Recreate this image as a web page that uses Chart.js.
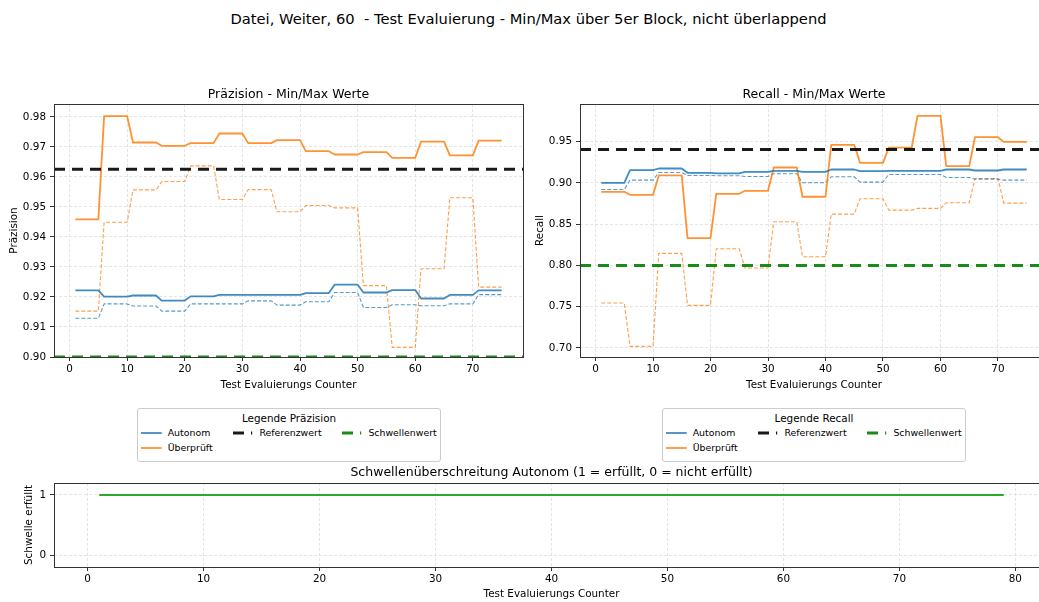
<!DOCTYPE html>
<html>
<head>
<meta charset="utf-8">
<title>Test Evaluierung - Min/Max über 5er Block</title>
<script src="https://cdn.jsdelivr.net/npm/chart.js@4.4.1/dist/chart.umd.min.js"></script>
<style>
  html, body { margin: 0; padding: 0; background: #fff; overflow: hidden; }
  body { position: relative; width: 1039px; height: 602px; font-family: "DejaVu Sans", sans-serif; color: #000; }
  canvas { position: absolute; display: block; }
  #suptitle { position: absolute; left: 0; width: 1057px; top: 9px; text-align: center; font-size: 14.7px; line-height: 20px; white-space: pre; }
  .legend { position: absolute; box-sizing: border-box; border: 1px solid #cccccc; border-radius: 3px; background: #fff; }
  .legend .lg-title { position: absolute; left: 0; right: 0; text-align: center; font-size: 10.4px; line-height: 14px; white-space: pre; }
  .legend .lg-text { position: absolute; font-size: 9.4px; line-height: 12px; white-space: pre; }
  .legend svg { position: absolute; }
</style>
</head>
<body>
<div id="suptitle">Datei, Weiter, 60  - Test Evaluierung - Min/Max über 5er Block, nicht überlappend</div>

<canvas id="praezision" width="528" height="317" style="left:0px;top:80px;width:528px;height:317px"></canvas>
<canvas id="recall" width="527" height="317" style="left:526px;top:80px;width:527px;height:317px"></canvas>
<canvas id="schwelle" width="1054" height="145" style="left:0px;top:462px;width:1054px;height:145px"></canvas>

<div class="legend" id="legendPraezision" style="left:137px;top:408px;width:304px;height:54px"></div>
<div class="legend" id="legendRecall" style="left:662px;top:408px;width:304px;height:54px"></div>

<script>
// ---- Evaluation counter (x values) ----
const counter = [
   1,  2,  3,  4,  5,  6,  7,  8,  9, 10, 11, 12, 13, 14, 15,
  16, 17, 18, 19, 20, 21, 22, 23, 24, 25, 26, 27, 28, 29, 30,
  31, 32, 33, 34, 35, 36, 37, 38, 39, 40, 41, 42, 43, 44, 45,
  46, 47, 48, 49, 50, 51, 52, 53, 54, 55, 56, 57, 58, 59, 60,
  61, 62, 63, 64, 65, 66, 67, 68, 69, 70, 71, 72, 73, 74, 75
];

// ---- Präzision: min/max per 5-run block ----
const praezAutonomMax = [
  0.9222, 0.9222, 0.9222, 0.9222, 0.9222,  0.9201, 0.9201, 0.9201, 0.9201, 0.9201,
  0.9205, 0.9205, 0.9205, 0.9205, 0.9205,  0.9188, 0.9188, 0.9188, 0.9188, 0.9188,
  0.9202, 0.9202, 0.9202, 0.9202, 0.9202,  0.9207, 0.9207, 0.9207, 0.9207, 0.9207,
  0.9207, 0.9207, 0.9207, 0.9207, 0.9207,  0.9207, 0.9207, 0.9207, 0.9207, 0.9207,
  0.9213, 0.9213, 0.9213, 0.9213, 0.9213,  0.9241, 0.9241, 0.9241, 0.9241, 0.9241,
  0.9215, 0.9215, 0.9215, 0.9215, 0.9215,  0.9223, 0.9223, 0.9223, 0.9223, 0.9223,
  0.9195, 0.9195, 0.9195, 0.9195, 0.9195,  0.9207, 0.9207, 0.9207, 0.9207, 0.9207,
  0.9222, 0.9222, 0.9222, 0.9222, 0.9222
];
const praezAutonomMin = [
  0.9129, 0.9129, 0.9129, 0.9129, 0.9129,  0.9177, 0.9177, 0.9177, 0.9177, 0.9177,
  0.9170, 0.9170, 0.9170, 0.9170, 0.9170,  0.9153, 0.9153, 0.9153, 0.9153, 0.9153,
  0.9177, 0.9177, 0.9177, 0.9177, 0.9177,  0.9177, 0.9177, 0.9177, 0.9177, 0.9177,
  0.9187, 0.9187, 0.9187, 0.9187, 0.9187,  0.9173, 0.9173, 0.9173, 0.9173, 0.9173,
  0.9184, 0.9184, 0.9184, 0.9184, 0.9184,  0.9215, 0.9215, 0.9215, 0.9215, 0.9215,
  0.9165, 0.9165, 0.9165, 0.9165, 0.9165,  0.9174, 0.9174, 0.9174, 0.9174, 0.9174,
  0.9171, 0.9171, 0.9171, 0.9171, 0.9171,  0.9177, 0.9177, 0.9177, 0.9177, 0.9177,
  0.9208, 0.9208, 0.9208, 0.9208, 0.9208
];
const praezGeprueftMax = [
  0.9459, 0.9459, 0.9459, 0.9459, 0.9459,  0.9803, 0.9803, 0.9803, 0.9803, 0.9803,
  0.9715, 0.9715, 0.9715, 0.9715, 0.9715,  0.9704, 0.9704, 0.9704, 0.9704, 0.9704,
  0.9713, 0.9713, 0.9713, 0.9713, 0.9713,  0.9745, 0.9745, 0.9745, 0.9745, 0.9745,
  0.9713, 0.9713, 0.9713, 0.9713, 0.9713,  0.9723, 0.9723, 0.9723, 0.9723, 0.9723,
  0.9686, 0.9686, 0.9686, 0.9686, 0.9686,  0.9675, 0.9675, 0.9675, 0.9675, 0.9675,
  0.9683, 0.9683, 0.9683, 0.9683, 0.9683,  0.9664, 0.9664, 0.9664, 0.9664, 0.9664,
  0.9718, 0.9718, 0.9718, 0.9718, 0.9718,  0.9672, 0.9672, 0.9672, 0.9672, 0.9672,
  0.9721, 0.9721, 0.9721, 0.9721, 0.9721
];
const praezGeprueftMin = [
  0.9153, 0.9153, 0.9153, 0.9153, 0.9153,  0.9449, 0.9449, 0.9449, 0.9449, 0.9449,
  0.9557, 0.9557, 0.9557, 0.9557, 0.9557,  0.9585, 0.9585, 0.9585, 0.9585, 0.9585,
  0.9637, 0.9637, 0.9637, 0.9637, 0.9637,  0.9525, 0.9525, 0.9525, 0.9525, 0.9525,
  0.9558, 0.9558, 0.9558, 0.9558, 0.9558,  0.9484, 0.9484, 0.9484, 0.9484, 0.9484,
  0.9505, 0.9505, 0.9505, 0.9505, 0.9505,  0.9497, 0.9497, 0.9497, 0.9497, 0.9497,
  0.9238, 0.9238, 0.9238, 0.9238, 0.9238,  0.9032, 0.9032, 0.9032, 0.9032, 0.9032,
  0.9294, 0.9294, 0.9294, 0.9294, 0.9294,  0.9531, 0.9531, 0.9531, 0.9531, 0.9531,
  0.9233, 0.9233, 0.9233, 0.9233, 0.9233
];
const praezReferenz = 0.9626;
const praezSchwelle = 0.90;

// ---- Recall: min/max per 5-run block ----
const recallAutonomMax = [
  0.9000, 0.9000, 0.9000, 0.9000, 0.9000,  0.9153, 0.9153, 0.9153, 0.9153, 0.9153,
  0.9173, 0.9173, 0.9173, 0.9173, 0.9173,  0.9121, 0.9121, 0.9121, 0.9121, 0.9121,
  0.9113, 0.9113, 0.9113, 0.9113, 0.9113,  0.9133, 0.9133, 0.9133, 0.9133, 0.9133,
  0.9145, 0.9145, 0.9145, 0.9145, 0.9145,  0.9133, 0.9133, 0.9133, 0.9133, 0.9133,
  0.9161, 0.9161, 0.9161, 0.9161, 0.9161,  0.9141, 0.9141, 0.9141, 0.9141, 0.9141,
  0.9145, 0.9145, 0.9145, 0.9145, 0.9145,  0.9145, 0.9145, 0.9145, 0.9145, 0.9145,
  0.9161, 0.9161, 0.9161, 0.9161, 0.9161,  0.9149, 0.9149, 0.9149, 0.9149, 0.9149,
  0.9161, 0.9161, 0.9161, 0.9161, 0.9161
];
const recallAutonomMin = [
  0.8919, 0.8919, 0.8919, 0.8919, 0.8919,  0.9032, 0.9032, 0.9032, 0.9032, 0.9032,
  0.9125, 0.9125, 0.9125, 0.9125, 0.9125,  0.9089, 0.9089, 0.9089, 0.9089, 0.9089,
  0.9085, 0.9085, 0.9085, 0.9085, 0.9085,  0.9077, 0.9077, 0.9077, 0.9077, 0.9077,
  0.9109, 0.9109, 0.9109, 0.9109, 0.9109,  0.9000, 0.9000, 0.9000, 0.9000, 0.9000,
  0.9073, 0.9073, 0.9073, 0.9073, 0.9073,  0.9008, 0.9008, 0.9008, 0.9008, 0.9008,
  0.9101, 0.9101, 0.9101, 0.9101, 0.9101,  0.9101, 0.9101, 0.9101, 0.9101, 0.9101,
  0.9065, 0.9065, 0.9065, 0.9065, 0.9065,  0.9044, 0.9044, 0.9044, 0.9044, 0.9044,
  0.9032, 0.9032, 0.9032, 0.9032, 0.9032
];
const recallGeprueftMax = [
  0.8891, 0.8891, 0.8891, 0.8891, 0.8891,  0.8855, 0.8855, 0.8855, 0.8855, 0.8855,
  0.9089, 0.9089, 0.9089, 0.9089, 0.9089,  0.8331, 0.8331, 0.8331, 0.8331, 0.8331,
  0.8867, 0.8867, 0.8867, 0.8867, 0.8867,  0.8903, 0.8903, 0.8903, 0.8903, 0.8903,
  0.9185, 0.9185, 0.9185, 0.9185, 0.9185,  0.8831, 0.8831, 0.8831, 0.8831, 0.8831,
  0.9460, 0.9460, 0.9460, 0.9460, 0.9460,  0.9242, 0.9242, 0.9242, 0.9242, 0.9242,
  0.9427, 0.9427, 0.9427, 0.9427, 0.9427,  0.9810, 0.9810, 0.9810, 0.9810, 0.9810,
  0.9202, 0.9202, 0.9202, 0.9202, 0.9202,  0.9552, 0.9552, 0.9552, 0.9552, 0.9552,
  0.9496, 0.9496, 0.9496, 0.9496, 0.9496
];
const recallGeprueftMin = [
  0.7544, 0.7544, 0.7544, 0.7544, 0.7544,  0.7020, 0.7020, 0.7020, 0.7020, 0.7020,
  0.8145, 0.8145, 0.8145, 0.8145, 0.8145,  0.7516, 0.7516, 0.7516, 0.7516, 0.7516,
  0.8202, 0.8202, 0.8202, 0.8202, 0.8202,  0.7968, 0.7968, 0.7968, 0.7968, 0.7968,
  0.8528, 0.8528, 0.8528, 0.8528, 0.8528,  0.8105, 0.8105, 0.8105, 0.8105, 0.8105,
  0.8621, 0.8621, 0.8621, 0.8621, 0.8621,  0.8806, 0.8806, 0.8806, 0.8806, 0.8806,
  0.8669, 0.8669, 0.8669, 0.8669, 0.8669,  0.8690, 0.8690, 0.8690, 0.8690, 0.8690,
  0.8758, 0.8758, 0.8758, 0.8758, 0.8758,  0.9052, 0.9052, 0.9052, 0.9052, 0.9052,
  0.8754, 0.8754, 0.8754, 0.8754, 0.8754
];
const recallReferenz = 0.9403;
const recallSchwelle = 0.80;

// ---- Threshold check for the autonomous run (1 = erfüllt, 0 = nicht erfüllt) ----
const schwelleCounter = [
   1,  2,  3,  4,  5,  6,  7,  8,  9, 10, 11, 12, 13, 14, 15, 16, 17, 18, 19, 20,
  21, 22, 23, 24, 25, 26, 27, 28, 29, 30, 31, 32, 33, 34, 35, 36, 37, 38, 39, 40,
  41, 42, 43, 44, 45, 46, 47, 48, 49, 50, 51, 52, 53, 54, 55, 56, 57, 58, 59, 60,
  61, 62, 63, 64, 65, 66, 67, 68, 69, 70, 71, 72, 73, 74, 75, 76, 77, 78, 79
];
const schwelleErfuellt = [
  1, 1, 1, 1, 1, 1, 1, 1, 1, 1, 1, 1, 1, 1, 1, 1, 1, 1, 1, 1,
  1, 1, 1, 1, 1, 1, 1, 1, 1, 1, 1, 1, 1, 1, 1, 1, 1, 1, 1, 1,
  1, 1, 1, 1, 1, 1, 1, 1, 1, 1, 1, 1, 1, 1, 1, 1, 1, 1, 1, 1,
  1, 1, 1, 1, 1, 1, 1, 1, 1, 1, 1, 1, 1, 1, 1, 1, 1, 1, 1
];

// ---- Tick positions and labels ----
const topXTicks = [0, 10, 20, 30, 40, 50, 60, 70];
const praezYTicks = [0.90, 0.91, 0.92, 0.93, 0.94, 0.95, 0.96, 0.97, 0.98];
const praezYTickLabels = ['0.90', '0.91', '0.92', '0.93', '0.94', '0.95', '0.96', '0.97', '0.98'];
const recallYTicks = [0.70, 0.75, 0.80, 0.85, 0.90, 0.95];
const recallYTickLabels = ['0.70', '0.75', '0.80', '0.85', '0.90', '0.95'];
const bottomXTicks = [0, 10, 20, 30, 40, 50, 60, 70, 80];
const bottomYTicks = [0, 1];

// ---- Styling ----
const FONT = '"DejaVu Sans", sans-serif';
const BLUE = 'rgba(31,119,180,0.85)';
const BLUE_DASH = 'rgba(31,119,180,0.75)';
const ORANGE = 'rgba(255,127,14,0.85)';
const ORANGE_DASH = 'rgba(255,127,14,0.75)';
const BLACK_REF = 'rgba(0,0,0,0.9)';
const GREEN_REF = 'rgba(0,128,0,0.9)';
const GREEN_OK = 'rgb(44,170,44)';
const GRID = '#dddddd';
const SPINE = '#333333';

function series(label, xs, ys, color, width, dash, order) {
  return {
    label, data: xs.map((x, i) => ({ x, y: ys[i] })),
    borderColor: color, backgroundColor: color, borderWidth: width,
    borderDash: dash || [], borderCapStyle: 'butt', borderJoinStyle: 'round',
    pointRadius: 0, pointHoverRadius: 0, tension: 0, fill: false, order, clip: 0
  };
}
function hline(label, value, xMin, xMax, color, order) {
  return series(label, [xMin, xMax], [value, value], color, 3, [11, 7], order);
}

// Draws all four spines around the plot area (boxed axes).
const framePlugin = {
  id: 'frame',
  afterDatasetsDraw(chart) {
    const { ctx, chartArea: a } = chart;
    ctx.save();
    ctx.strokeStyle = SPINE;
    ctx.lineWidth = 1;
    const l = Math.floor(a.left) + 0.5, t = Math.floor(a.top) + 0.5;
    const r = Math.floor(a.right) + 0.5, b = Math.floor(a.bottom) + 0.5;
    ctx.strokeRect(l, t, r - l, b - t);
    ctx.restore();
  }
};

// Plot title centred over the plot area rather than the whole canvas.
const areaTitlePlugin = {
  id: 'areaTitle',
  afterDraw(chart, args, opts) {
    const { ctx, chartArea: a } = chart;
    ctx.save();
    ctx.font = '12.5px ' + FONT;
    ctx.fillStyle = '#000';
    ctx.textAlign = 'center';
    ctx.textBaseline = 'middle';
    ctx.fillText(opts.text, (a.left + a.right) / 2, a.top - opts.offset);
    ctx.restore();
  }
};

function axis(opts) {
  const horizontal = opts.horizontal;
  return {
    type: 'linear',
    min: opts.min, max: opts.max,
    afterBuildTicks: s => { s.ticks = opts.ticks.map(v => ({ value: v })); },
    afterFit: s => { if (horizontal) s.height = opts.size; else s.width = opts.size; },
    ticks: {
      autoSkip: false, maxRotation: 0, color: '#000',
      font: { family: FONT, size: 10.4 },
      padding: horizontal ? 2 : 4,
      callback: (v, i) => opts.labels ? opts.labels[i] : String(v)
    },
    grid: {
      color: GRID, lineWidth: 0.8, drawTicks: true, tickLength: 4,
      tickColor: SPINE, tickWidth: 1, tickBorderDash: []
    },
    border: { display: false, dash: [3, 2] },
    title: {
      display: true, text: opts.title, color: '#000',
      font: { family: FONT, size: 10.4 }, padding: opts.titlePadding
    }
  };
}

function baseOptions(title, titleOffset, topPad, rightPad, xAxis, yAxis) {
  return {
    responsive: false, animation: false, devicePixelRatio: 1,
    events: [],
    layout: { padding: { left: 0, right: rightPad, top: topPad, bottom: 0 } },
    plugins: {
      legend: { display: false },
      tooltip: { enabled: false },
      title: { display: false },
      areaTitle: { text: title, offset: titleOffset }
    },
    scales: { x: xAxis, y: yAxis }
  };
}

const TOP_XMIN = -2.7, TOP_XMAX = 78.7;

// ---- Präzision ----
new Chart(document.getElementById('praezision'), {
  type: 'line',
  data: {
    datasets: [
      hline('Referenzwert', praezReferenz, TOP_XMIN, TOP_XMAX, BLACK_REF, 0),
      hline('Schwellenwert', praezSchwelle, TOP_XMIN, TOP_XMAX, GREEN_REF, 0),
      series('Autonom', counter, praezAutonomMax, BLUE, 1.8, null, 1),
      series('Überprüft', counter, praezGeprueftMax, ORANGE, 1.8, null, 1),
      series('Autonom min', counter, praezAutonomMin, BLUE_DASH, 1.1, [4, 2], 2),
      series('Überprüft min', counter, praezGeprueftMin, ORANGE_DASH, 1.1, [4, 2], 2)
    ]
  },
  options: baseOptions('Präzision - Min/Max Werte', 9.7, 24, 5,
    axis({ horizontal: true, min: TOP_XMIN, max: TOP_XMAX, ticks: topXTicks, size: 40,
           title: 'Test Evaluierungs Counter', titlePadding: { top: 0, bottom: 5.5 } }),
    axis({ horizontal: false, min: 0.90, max: 0.98433, ticks: praezYTicks, labels: praezYTickLabels,
           size: 54, title: 'Präzision', titlePadding: { top: 7.8, bottom: 0 } })),
  plugins: [framePlugin, areaTitlePlugin]
});

// ---- Recall ----
new Chart(document.getElementById('recall'), {
  type: 'line',
  data: {
    datasets: [
      hline('Referenzwert', recallReferenz, TOP_XMIN, TOP_XMAX, BLACK_REF, 0),
      hline('Schwellenwert', recallSchwelle, TOP_XMIN, TOP_XMAX, GREEN_REF, 0),
      series('Autonom', counter, recallAutonomMax, BLUE, 1.8, null, 1),
      series('Überprüft', counter, recallGeprueftMax, ORANGE, 1.8, null, 1),
      series('Autonom min', counter, recallAutonomMin, BLUE_DASH, 1.1, [4, 2], 2),
      series('Überprüft min', counter, recallGeprueftMin, ORANGE_DASH, 1.1, [4, 2], 2)
    ]
  },
  options: baseOptions('Recall - Min/Max Werte', 9.7, 24, 5,
    axis({ horizontal: true, min: TOP_XMIN, max: TOP_XMAX, ticks: topXTicks, size: 40,
           title: 'Test Evaluierungs Counter', titlePadding: { top: 0, bottom: 5.5 } }),
    axis({ horizontal: false, min: 0.6891, max: 0.9954, ticks: recallYTicks, labels: recallYTickLabels,
           size: 54, title: 'Recall', titlePadding: { top: 7.8, bottom: 0 } })),
  plugins: [framePlugin, areaTitlePlugin]
});

// ---- Schwellenüberschreitung ----
new Chart(document.getElementById('schwelle'), {
  type: 'line',
  data: {
    datasets: [
      series('Schwelle erfüllt', schwelleCounter, schwelleErfuellt, GREEN_OK, 1.8, null, 0)
    ]
  },
  options: baseOptions('Schwellenüberschreitung Autonom (1 = erfüllt, 0 = nicht erfüllt)', 10.7, 21, 5,
    axis({ horizontal: true, min: -2.9, max: 82.9, ticks: bottomXTicks, size: 40,
           title: 'Test Evaluierungs Counter', titlePadding: { top: 0, bottom: 6.2 } }),
    axis({ horizontal: false, min: -0.2, max: 1.2, ticks: bottomYTicks,
           size: 54, title: 'Schwelle erfüllt', titlePadding: { top: 23, bottom: 0 } })),
  plugins: [framePlugin, areaTitlePlugin]
});

// ---- Legends below the two upper plots ----
const legendEntries = [
  { label: 'Autonom', color: BLUE, width: 1.8, dash: null, col: 0, row: 0 },
  { label: 'Überprüft', color: ORANGE, width: 1.8, dash: null, col: 0, row: 1 },
  { label: 'Referenzwert', color: BLACK_REF, width: 3, dash: '11 7', col: 1, row: 0 },
  { label: 'Schwellenwert', color: GREEN_REF, width: 3, dash: '11 7', col: 2, row: 0 }
];
const legendColX = [3, 94.7, 203.7];
const legendRowY = [24.3, 38.7];

function buildLegend(el, title) {
  const t = document.createElement('div');
  t.className = 'lg-title';
  t.style.top = (8.7 - 7) + 'px';
  t.textContent = title;
  el.appendChild(t);
  const NS = 'http://www.w3.org/2000/svg';
  legendEntries.forEach(e => {
    const x = legendColX[e.col], y = legendRowY[e.row];
    const svg = document.createElementNS(NS, 'svg');
    svg.setAttribute('width', '21');
    svg.setAttribute('height', '8');
    svg.style.left = x + 'px';
    svg.style.top = (y - 4) + 'px';
    const ln = document.createElementNS(NS, 'line');
    ln.setAttribute('x1', '0');
    ln.setAttribute('x2', e.dash ? '19.2' : '20.7');
    ln.setAttribute('y1', '4'); ln.setAttribute('y2', '4');
    ln.setAttribute('stroke', e.color);
    ln.setAttribute('stroke-width', String(e.width));
    if (e.dash) ln.setAttribute('stroke-dasharray', e.dash);
    svg.appendChild(ln);
    el.appendChild(svg);
    const tx = document.createElement('div');
    tx.className = 'lg-text';
    tx.style.left = (x + 26.7) + 'px';
    tx.style.top = (y - 6) + 'px';
    tx.textContent = e.label;
    el.appendChild(tx);
  });
}
buildLegend(document.getElementById('legendPraezision'), 'Legende Präzision');
buildLegend(document.getElementById('legendRecall'), 'Legende Recall');
</script>
</body>
</html>
